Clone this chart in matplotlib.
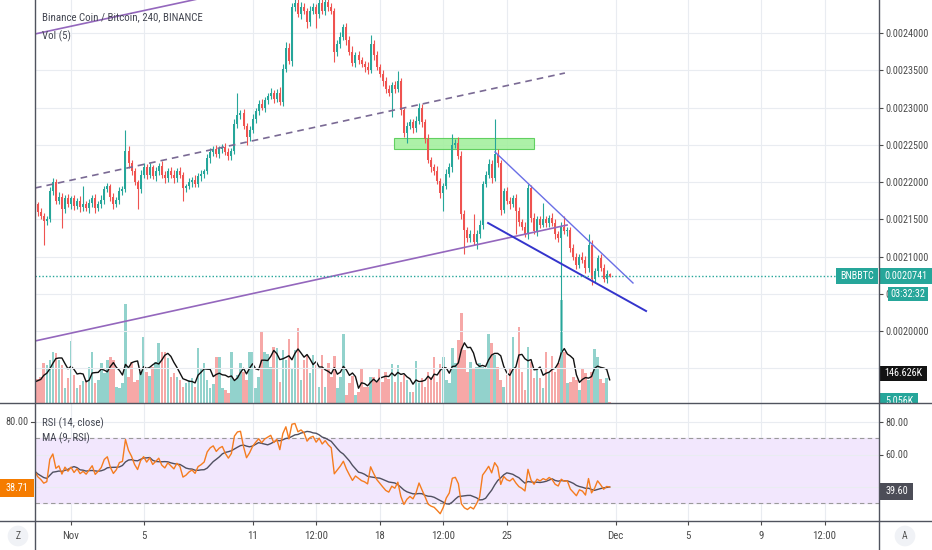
import matplotlib
matplotlib.use('Agg')
import matplotlib.pyplot as plt
from matplotlib.patches import Rectangle
from matplotlib.lines import Line2D
import numpy as np
import pandas as pd

plt.rcParams['font.family'] = ['Roboto Condensed', 'Liberation Sans', 'DejaVu Sans']

# ---- data (prices in units of 1e-7 BTC, volume in K) ----
first_open = 21900
closes = [
    21700, 21600, 21550, 21480, 21500, 21880, 22000, 21750, 21800, 21640,
    21780, 21700, 21780, 21680, 21750, 21660, 21700, 21650, 21720, 21790,
    21650, 21700, 21760, 21900, 21950, 21800, 21700, 21760, 21880, 21900,
    22420, 22250, 22150, 22000, 21900, 22100, 22200, 22100, 22200, 22080,
    22150, 22220, 22100, 22050, 22150, 22100, 22050, 22150, 22100, 21920,
    21950, 22000, 22030, 21980, 22080, 22110, 22150, 22320, 22400, 22440,
    22380, 22440, 22470, 22400, 22350, 22420, 22780, 22900, 22920, 22750,
    22600, 22700, 22850, 22950, 23050, 23000, 23100, 23150, 23200, 23120,
    23200, 23080, 23520, 23800, 23620, 24350, 24400, 24250, 24350, 24300,
    24150, 24300, 24350, 24250, 24400, 24300, 24420, 24350, 24300, 23750,
    23850, 23950, 24080, 23900, 23750, 23600, 23700, 23640, 23580, 23550,
    23500, 23850, 23700, 23550, 23450, 23350, 23250, 23200, 23300, 23250,
    23350, 22960, 22660, 22750, 22800, 22720, 22820, 23000, 22800, 22580,
    22290, 22200, 22150, 22010, 21850, 21950, 22110, 22200, 22500, 22520,
    22350, 21570, 21350, 21250, 21300, 21200, 21300, 21430, 21975, 22100,
    22245, 22050, 22380, 22250, 21620, 21880, 21750, 21700, 21780, 21610,
    21470, 21400, 21300, 21920, 21520, 21340, 21500, 21430, 21500, 21450,
    21520, 21450, 21300, 21245, 21400, 21340, 21350, 21110, 21000, 20890,
    21000, 20960, 20840, 21160, 20700, 20800, 20975, 20850, 20700, 20760,
    20741,
]
up_wick = [
    40, 30, 50, 30, 40, 60, 50, 40, 60, 50,
    40, 60, 30, 50, 40, 60, 250, 40, 50, 30,
    50, 40, 60, 50, 40, 30, 50, 40, 60, 50,
    280, 60, 50, 40, 30, 60, 50, 40, 60, 30,
    50, 40, 60, 50, 40, 50, 60, 40, 50, 40,
    30, 50, 40, 60, 40, 50, 30, 60, 50, 40,
    60, 50, 40, 60, 50, 40, 60, 290, 50, 60,
    40, 50, 60, 40, 50, 60, 40, 50, 60, 40,
    50, 80, 60, 80, 60, 50, 60, 50, 60, 50,
    40, 60, 50, 40, 60, 50, 40, 60, 50, 40,
    50, 60, 40, 50, 60, 70, 50, 60, 40, 50,
    60, 120, 50, 60, 40, 50, 60, 50, 40, 60,
    140, 50, 40, 60, 50, 40, 60, 60, 50, 40,
    60, 50, 40, 60, 50, 40, 60, 50, 150, 60,
    80, 60, 50, 40, 60, 270, 50, 60, 40, 50,
    60, 50, 470, 60, 50, 40, 60, 50, 40, 60,
    50, 40, 60, 50, 40, 60, 50, 40, 220, 50,
    40, 60, 50, 40, 60, 140, 50, 40, 60, 50,
    40, 60, 50, 140, 60, 50, 40, 60, 50, 60,
    20,
]
dn_wick = [
    50, 60, 40, 320, 50, 40, 60, 50, 40, 260,
    50, 40, 60, 50, 40, 60, 50, 40, 60, 50,
    60, 40, 50, 60, 40, 50, 60, 40, 50, 60,
    40, 60, 50, 40, 260, 50, 40, 60, 50, 40,
    60, 50, 40, 60, 50, 40, 60, 50, 40, 180,
    50, 40, 60, 50, 40, 60, 50, 40, 60, 50,
    40, 60, 50, 40, 60, 50, 40, 60, 50, 40,
    100, 50, 40, 60, 50, 40, 60, 50, 40, 60,
    50, 40, 60, 50, 40, 60, 50, 40, 60, 50,
    80, 50, 40, 180, 50, 40, 60, 50, 40, 140,
    60, 50, 40, 60, 50, 40, 60, 50, 40, 80,
    50, 40, 60, 50, 40, 60, 50, 40, 330, 50,
    40, 60, 50, 130, 40, 60, 50, 40, 60, 50,
    40, 60, 50, 40, 60, 240, 50, 40, 60, 50,
    40, 60, 320, 60, 50, 40, 100, 50, 60, 40,
    50, 60, 40, 50, 60, 40, 50, 60, 40, 310,
    60, 50, 40, 60, 50, 40, 60, 50, 40, 60,
    50, 40, 60, 50, 1525, 40, 60, 50, 40, 60,
    50, 40, 60, 50, 80, 40, 60, 50, 40, 60,
    20,
]
volumes = [
    134, 150, 166, 255, 242, 274, 325, 319, 274, 242,
    96, 159, 395, 178, 96, 115, 140, 147, 229, 325,
    127, 147, 255, 191, 274, 293, 274, 102, 96, 127,
    631, 166, 261, 134, 147, 198, 420, 198, 172, 229,
    261, 382, 325, 325, 287, 166, 191, 166, 147, 102,
    130, 147, 159, 102, 350, 223, 255, 147, 96, 120,
    293, 293, 96, 83, 64, 325, 147, 180, 255, 198,
    147, 325, 325, 96, 166, 452, 325, 312, 229, 357,
    350, 134, 338, 274, 408, 223, 338, 478, 147, 274,
    306, 191, 306, 242, 102,
    306, 102, 255, 166, 299, 96, 166, 440, 51, 127,
    172, 51, 70, 223, 102, 102, 166, 166, 134, 223,
    134, 198, 153, 248, 134, 242, 134, 178, 147, 70,
    70, 268, 127, 159, 102, 198, 166, 293, 134, 248,
    293, 147, 127, 350, 255, 401, 573, 338, 198, 261,
    223, 229, 255, 229, 223, 440, 382, 306, 229, 147,
    102, 180, 223, 420, 223, 484, 198, 83, 357, 261,
    159, 210, 159, 96, 325, 191, 299, 198, 255, 656,
    325, 127, 134, 166, 147, 83, 223, 191, 147, 198,
    344, 293, 153, 127, 160, 5,
]
rsi_seed_gain, rsi_seed_loss = 55, 40
start_time = '2019-10-30 00:00'
last_price = 0.0020741

date_ticks = ['2019-11-01', '2019-11-05', '2019-11-11', '2019-11-14 12:00', '2019-11-18',
              '2019-11-21 12:00', '2019-11-25', '2019-12-01', '2019-12-05', '2019-12-09',
              '2019-12-12 12:00']
date_labels = ['Nov', '5', '11', '12:00', '18', '12:00', '25', 'Dec', '5', '9', '12:00']
price_ticks = [0.0020, 0.00205, 0.0021, 0.00215, 0.0022, 0.00225, 0.0023, 0.00235, 0.0024]
price_grid = [0.00195] + price_ticks

# user drawings: (day since Nov 1, price)
upper_channel = [(-1.98, 0.0023987), (8.0, 0.0024510)]
lower_channel = [(-1.98, 0.0019867), (27.32, 0.0021423)]
mid_dashed = [(-1.98, 0.0021920), (27.2, 0.0023463)]
zone = (17.79, 25.5, 0.0022443, 0.0022591)
wedge_top = [(23.35, 0.0022403), (30.95, 0.0020645)]
wedge_bottom = [(22.97, 0.0021450), (31.67, 0.0020269)]

# ---- derived series ----
close = np.array(closes) * 1e-7
opens = np.concatenate([[first_open], closes[:-1]]) * 1e-7
top = np.maximum(opens, close)
bot = np.minimum(opens, close)
high = top + np.array(up_wick) * 1e-7
low = bot - np.array(dn_wick) * 1e-7
nov1 = pd.Timestamp('2019-11-01')
times = pd.date_range(start_time, periods=len(closes), freq='4h')
x = np.asarray((times - nov1) / pd.Timedelta(days=1))
is_up = close >= opens

delta = np.diff(np.array(closes, dtype=float), prepend=first_open)
ag, al = rsi_seed_gain, rsi_seed_loss
rsi = []
for d in delta:
    ag = (ag * 13 + max(d, 0)) / 14
    al = (al * 13 + max(-d, 0)) / 14
    rsi.append(100 - 100 / (1 + ag / al))
rsi = pd.Series(rsi)
rsi_ma = rsi.rolling(9, min_periods=1).mean()
vol_ma = pd.Series(volumes).rolling(5, min_periods=1).mean()

tick_days = [(pd.Timestamp(t) - nov1) / pd.Timedelta(days=1) for t in date_ticks]

# ---- figure ----
W, H = 932, 550
fig = plt.figure(figsize=(W / 100, H / 100), dpi=100)
fig.patch.set_facecolor('white')

def fx(px):
    return px / W

def fy(py):
    return 1 - py / H

up_c, dn_c = '#26a69a', '#ef5350'
grid_c = '#e9ecf1'
text_c = '#4a4a4a'
line_c = '#50535e'
xmin, xmax = (35 - 71) / 18.158, (879 - 71) / 18.158

ax = fig.add_axes([fx(35), fy(403), fx(879) - fx(35), fy(0) - fy(403)])
axv = ax.twinx()
ax.set_zorder(axv.get_zorder() + 1)
ax.patch.set_visible(False)
axr = fig.add_axes([fx(35), fy(521), fx(879) - fx(35), fy(404) - fy(521)])

# volume
vcols = [(0.149, 0.651, 0.604, 0.5) if u else (0.937, 0.325, 0.314, 0.5) for u in is_up]
axv.bar(x, volumes, width=0.14, color=vcols, linewidth=0)
axv.plot(x, vol_ma, color='#111111', lw=1.0)
axv.set_ylim(0, 403 * 6.37)
axv.axis('off')

# grid
for p in price_grid:
    ax.axhline(p, color=grid_c, lw=0.8, zorder=0)
for d in tick_days:
    ax.axvline(d, color=grid_c, lw=0.8, zorder=0)
    axr.axvline(d, color=grid_c, lw=0.8, zorder=0)

# candles
ccols = [up_c if u else dn_c for u in is_up]
ax.vlines(x, low, high, colors=ccols, lw=0.8, zorder=3)
ax.bar(x, np.maximum(top - bot, 4e-7), bottom=bot, width=0.11, color=ccols, linewidth=0, zorder=4)

# drawings
def seg(pts, **kw):
    ax.plot([p[0] for p in pts], [p[1] for p in pts], **kw)

seg(upper_channel, color='#9467bd', lw=1.2, zorder=5)
seg(lower_channel, color='#9467bd', lw=1.2, zorder=5)
seg(mid_dashed, color='#7a6a94', lw=1.2, ls=(0, (4, 3)), zorder=5)
ax.add_patch(Rectangle((zone[0], zone[2]), zone[1] - zone[0], zone[3] - zone[2],
                       facecolor='#a4f09f', edgecolor='#55cc55', lw=0.8, alpha=0.9, zorder=2))
seg(wedge_top, color='#6a6fe6', lw=1.0, zorder=5)
seg(wedge_bottom, color='#3434cc', lw=1.4, zorder=5)
ax.axhline(last_price, color=up_c, lw=1.0, ls=(0, (1, 1.5)), zorder=5)

ax.set_xlim(xmin, xmax)
ax.set_ylim(0.0024 - 370 * 1.342e-6, 0.0024 + 33 * 1.342e-6)
axv.set_xlim(xmin, xmax)
ax.yaxis.tick_right()
ax.set_yticks(price_ticks)
ax.set_yticklabels(['%.7f' % p for p in price_ticks])
ax.set_xticks(tick_days)
ax.tick_params(axis='x', length=0, labelbottom=False)
ax.tick_params(axis='y', length=3, width=0.8, color=text_c, labelsize=7.3, labelcolor=text_c, pad=1.5)
for s in ax.spines.values():
    s.set_visible(False)

# RSI pane
axr.axhspan(30, 70, color='#f2e7fd', zorder=0)
for v in (40, 60, 80):
    axr.axhline(v, color=grid_c, lw=0.8, zorder=0)
for v in (30, 70):
    axr.axhline(v, color='#9a9a9a', lw=0.8, ls=(0, (4, 3)), zorder=1)
axr.plot(x, rsi_ma, color='#505060', lw=1.0, zorder=3)
axr.plot(x, rsi, color='#f57c1f', lw=1.0, zorder=4)
axr.set_xlim(xmin, xmax)
axr.set_ylim(80 - 99 / 1.625, 80 + 18 / 1.625)
axr.yaxis.tick_right()
axr.set_yticks([40, 60, 80])
axr.set_yticklabels(['', '60.00', '80.00'])
axr.set_xticks(tick_days)
axr.set_xticklabels(date_labels)
axr.tick_params(axis='x', length=3, width=0.8, color=text_c, labelsize=7.8, labelcolor=text_c, pad=4)
axr.tick_params(axis='y', length=3, width=0.8, color=text_c, labelsize=7.3, labelcolor=text_c, pad=1.5)
for s in axr.spines.values():
    s.set_visible(False)

# legends
leg_c = '#434651'
fig.text(fx(42), fy(17), 'Binance Coin / Bitcoin, 240, BINANCE', fontsize=7.8, color=leg_c, va='center')
fig.text(fx(42), fy(36), 'Vol (5)', fontsize=7.8, color=leg_c, va='center')
fig.text(fx(42), fy(423), 'RSI (14, close)', fontsize=7.8, color=leg_c, va='center')
fig.text(fx(42), fy(438), 'MA (9, RSI)', fontsize=7.8, color=leg_c, va='center')

# price scale labels
def label_box(x0, y0, x1, y1, text, bg, fg='white', tx=None, size=7.3):
    fig.add_artist(Rectangle((fx(x0), fy(y1)), fx(x1) - fx(x0), fy(y0) - fy(y1),
                             transform=fig.transFigure, facecolor=bg, edgecolor='none', zorder=5))
    cx = (x0 + x1) / 2 if tx is None else tx
    fig.text(fx(cx), fy((y0 + y1) / 2), text, color=fg, fontsize=size, ha='center', va='center', zorder=6)

label_box(836, 268, 878, 284, 'BNBBTC', up_c)
label_box(880, 268, 932, 284, '0.0020741', up_c, tx=906)
label_box(888, 287, 928, 301, '03:32:32', up_c)
label_box(880, 366, 927, 381, '146.626K', '#131313')
label_box(880, 393, 918, 409, '5.056K', up_c)
fig.add_artist(Rectangle((fx(879.5), fy(412)), fx(932) - fx(879.5), fy(403.5) - fy(412),
                         transform=fig.transFigure, facecolor='white', edgecolor='none', zorder=7))
label_box(0, 479, 34, 497, '38.71', '#f57c00')
label_box(880, 483, 913, 500, '39.60', '#4c4d57')
fig.text(fx(17), fy(422), '80.00', fontsize=7.3, color=text_c, ha='center', va='center')
fig.add_artist(Line2D([fx(31), fx(35)], [fy(422), fy(422)], transform=fig.transFigure, color=text_c, lw=0.8))

# Z / A buttons
for px, s in ((18, 'Z'), (905, 'A')):
    fig.text(fx(px), fy(536), s, fontsize=7, color='#555555', ha='center', va='center',
             bbox=dict(boxstyle='circle,pad=0.55', fc='#f0f2f6', ec='none'))

# pane separators
for y0 in (403, 521):
    fig.add_artist(Line2D([0, 1], [fy(y0), fy(y0)], transform=fig.transFigure, color=line_c, lw=1.0, zorder=8))
for x0 in (35, 879):
    fig.add_artist(Line2D([fx(x0), fx(x0)], [0, 1], transform=fig.transFigure, color=line_c, lw=1.0, zorder=8))

fig.savefig('out.png', dpi=100, facecolor='white')
